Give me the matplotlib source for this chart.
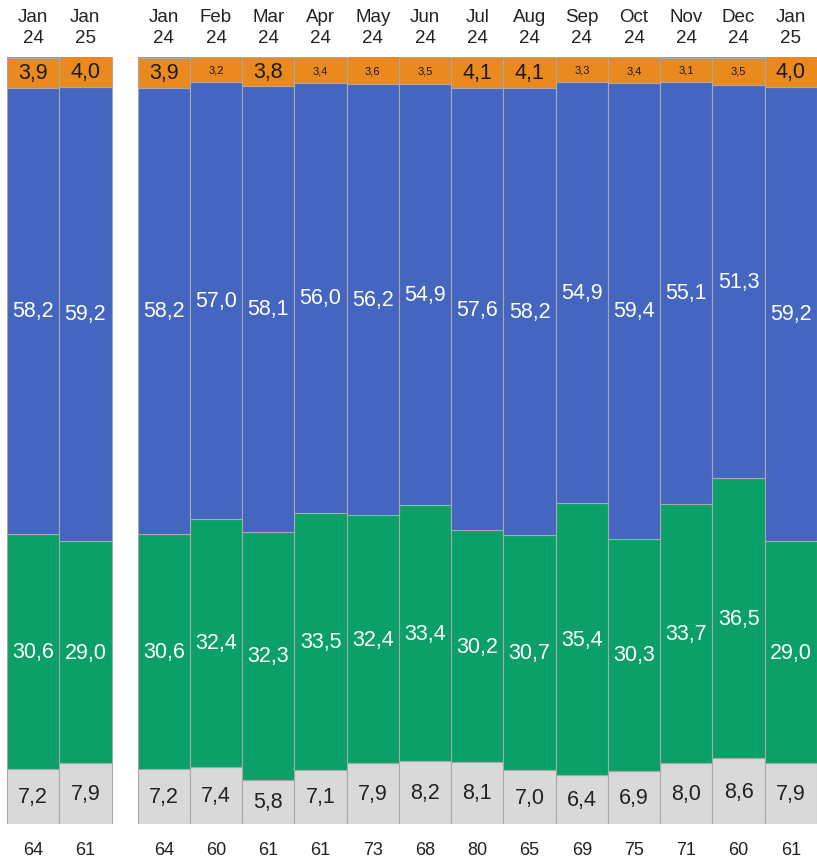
import matplotlib.pyplot as plt

plt.rcParams['font.family'] = ['Liberation Sans', 'DejaVu Sans']

# left block: year comparison
left_months = ['Jan\n24', 'Jan\n25']
left_gray = [7.2, 7.9]
left_green = [30.6, 29.0]
left_blue = [58.2, 59.2]
left_orange = [3.9, 4.0]
left_n = [64, 61]

# right block: monthly
right_months = ['Jan\n24', 'Feb\n24', 'Mar\n24', 'Apr\n24', 'May\n24', 'Jun\n24', 'Jul\n24',
                'Aug\n24', 'Sep\n24', 'Oct\n24', 'Nov\n24', 'Dec\n24', 'Jan\n25']
right_gray = [7.2, 7.4, 5.8, 7.1, 7.9, 8.2, 8.1, 7.0, 6.4, 6.9, 8.0, 8.6, 7.9]
right_green = [30.6, 32.4, 32.3, 33.5, 32.4, 33.4, 30.2, 30.7, 35.4, 30.3, 33.7, 36.5, 29.0]
right_blue = [58.2, 57.0, 58.1, 56.0, 56.2, 54.9, 57.6, 58.2, 54.9, 59.4, 55.1, 51.3, 59.2]
right_orange = [3.9, 3.2, 3.8, 3.4, 3.6, 3.5, 4.1, 4.1, 3.3, 3.4, 3.1, 3.5, 4.0]
right_n = [64, 60, 61, 61, 73, 68, 80, 65, 69, 75, 71, 60, 61]

GRAY = '#d9d9d9'
GREEN = '#0aa068'
BLUE = '#4465c0'
ORANGE = '#ea891d'
EDGE = '#a9a9a9'

months = left_months + right_months
gray = left_gray + right_gray
green = left_green + right_green
blue = left_blue + right_blue
orange = left_orange + right_orange
n = left_n + right_n
xs = [0, 1] + [2.5 + i for i in range(len(right_months))]

fig = plt.figure(figsize=(8.17, 8.62), dpi=100)
ax = fig.add_axes([0, 37 / 862, 1, (825 - 58) / 862])

bottom = [0.0] * len(xs)
segments = [(gray, GRAY, '#222222'), (green, GREEN, 'white'),
            (blue, BLUE, 'white'), (orange, ORANGE, '#1a1a1a')]
for vals, col, tcol in segments:
    ax.bar(xs, vals, width=1.0, bottom=bottom, color=col, edgecolor=EDGE, linewidth=0.8)
    for x, b, v in zip(xs, bottom, vals):
        size = 15.5
        if col == ORANGE:
            yc = (b + 100) / 2
            if v < 3.8:
                size = 8
        else:
            yc = b + v / 2
        ax.text(x, yc, f'{v:.1f}'.replace('.', ','), ha='center', va='center',
                fontsize=size, color=tcol)
    bottom = [b + v for b, v in zip(bottom, vals)]

# stretch orange to top so bars end flush
ax.bar(xs, [100 - b for b in bottom], width=1.0, bottom=bottom, color=ORANGE,
       edgecolor='none', linewidth=0)

for x, m, k in zip(xs, months, n):
    ax.text(x, 103.9, m, ha='center', va='center', fontsize=13.5, color='#222222',
            linespacing=1.25, clip_on=False)
    ax.text(x, -3.3, str(k), ha='center', va='center', fontsize=13, color='#222222',
            clip_on=False)

ax.set_xlim(-0.634, 15.0)
ax.set_ylim(0, 100)
ax.axis('off')

fig.savefig('out.png', dpi=100)
